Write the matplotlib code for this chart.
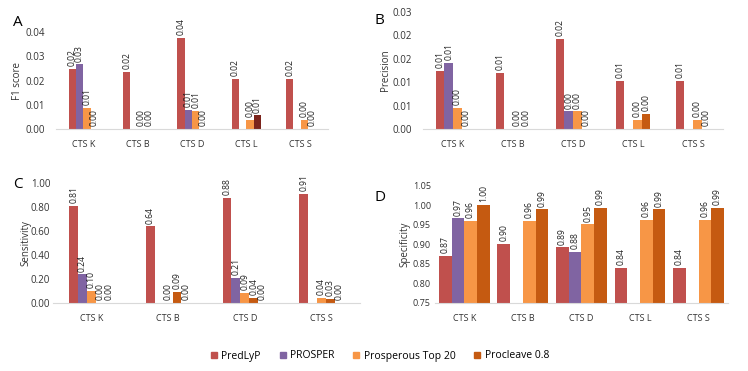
import numpy as np
from matplotlib import pyplot as plt

nan = np.nan

series = ["PredLyP", "PROSPER", "Prosperous Top 20", "Procleave 0.8"]
colors = ["#C0504D", "#8064A2", "#F79646", "#C55A11"]

cats5 = ["CTS K", "CTS B", "CTS D", "CTS L", "CTS S"]
cats4 = ["CTS K", "CTS B", "CTS D", "CTS S"]

# F1 score (A)
f1_predlyp = [0.0247, 0.0236, 0.0375, 0.0206, 0.0206]
f1_prosper = [0.0266, nan, 0.0079, nan, nan]
f1_prosperous = [0.0086, 0.0, 0.0076, 0.0038, 0.0038]
f1_procleave = [0.0, 0.0, 0.0, 0.0056, 0.0]

# Precision (B)
prec_predlyp = [0.0124, 0.0120, 0.0192, 0.0103, 0.0103]
prec_prosper = [0.0141, nan, 0.0038, nan, nan]
prec_prosperous = [0.0045, 0.0, 0.0038, 0.0019, 0.0019]
prec_procleave = [0.0, 0.0, 0.0, 0.0032, 0.0]

# Sensitivity (C) - has a fifth, all-zero series without legend entry
sens_predlyp = [0.81, 0.64, 0.875, 0.91]
sens_prosper = [0.238, nan, 0.21, nan]
sens_prosperous = [0.10, 0.0, 0.085, 0.04]
sens_procleave = [0.0, 0.09, 0.04, 0.03]
sens_extra = [0.0, 0.0, 0.0, 0.0]

# Specificity (D)
spec_predlyp = [0.87, 0.90, 0.892, 0.84, 0.84]
spec_prosper = [0.966, nan, 0.88, nan, nan]
spec_prosperous = [0.959, 0.96, 0.951, 0.962, 0.962]
spec_procleave = [1.0, 0.989, 0.993, 0.989, 0.993]

prec_ticks = [0.0, 0.005, 0.01, 0.015, 0.02, 0.025]
prec_ticklabels = ["0.00", "0.01", "0.01", "0.02", "0.02", "0.03"]

plt.rcParams["font.family"] = ["Open Sans", "DejaVu Sans"]
fig = plt.figure(figsize=(7.48, 3.71), dpi=100)


def panel(rect, cats, data, cols, width, ylim, ylabel, yfmt, bottom=0.0, ticks=None,
          ticklabels=None, bar_colors=None, ypad=8, yfs=7):
    ax = fig.add_axes(rect)
    n = len(data)
    x = np.arange(len(cats))
    for i, vals in enumerate(data):
        pos = x + (i - (n - 1) / 2) * width
        vals = np.array(vals, dtype=float)
        c = [cols[i]] * len(cats)
        if bar_colors and i in bar_colors:
            for j, cc in bar_colors[i].items():
                c[j] = cc
        hv = np.where(np.isnan(vals), 0, vals - bottom)
        ax.bar(pos, hv, width, bottom=bottom, color=c, zorder=2)
        for p, v in zip(pos, vals):
            if np.isnan(v):
                continue
            ax.annotate("%.2f" % v, (p, max(v, bottom)), xytext=(0, 2), textcoords="offset points",
                        rotation=90, ha="center", va="bottom", fontsize=6.2, color="#222222",
                        annotation_clip=False)
    ax.set_xlim(-0.5, len(cats) - 0.5)
    ax.set_ylim(*ylim)
    ax.set_xticks(x)
    ax.set_xticklabels(cats, fontsize=6.5, color="#333333")
    if ticks is not None:
        ax.set_yticks(ticks)
        ax.set_yticklabels(ticklabels)
    else:
        ax.yaxis.set_major_formatter(plt.FormatStrFormatter(yfmt))
    ax.tick_params(axis="y", labelsize=yfs, length=0, colors="#333333", pad=ypad)
    ax.tick_params(axis="x", length=0, pad=8)
    for s in ["top", "right", "left"]:
        ax.spines[s].set_visible(False)
    ax.spines["bottom"].set_color("#d9d9d9")
    ax.set_ylabel(ylabel, fontsize=7, color="#333333")
    return ax


axA = panel([0.075, 0.652, 0.3635, 0.262], cats5,
            [f1_predlyp, f1_prosper, f1_prosperous, f1_procleave], colors,
            0.135, (0, 0.04), "F1 score", "%.2f",
            bar_colors={3: {3: "#7B241C"}})
axA.set_yticks([0, 0.01, 0.02, 0.03, 0.04])
axA.yaxis.set_label_coords(-0.12, 0.5)

axB = panel([0.5655, 0.652, 0.401, 0.316], cats5,
            [prec_predlyp, prec_prosper, prec_prosperous, prec_procleave], colors,
            0.143, (0, 0.025), "Precision", "%.2f",
            ticks=prec_ticks, ticklabels=prec_ticklabels)
axB.yaxis.set_label_coords(-0.105, 0.5)

axC = panel([0.071, 0.184, 0.41, 0.322], cats4,
            [sens_predlyp, sens_prosper, sens_prosperous, sens_procleave, sens_extra],
            colors + ["#4BACC6"], 0.116, (0, 1.0), "Sensitivity", "%.2f", ypad=2)
axC.set_yticks([0, 0.2, 0.4, 0.6, 0.8, 1.0])
axC.yaxis.set_label_coords(-0.07, 0.5)

axD = panel([0.5815, 0.184, 0.3915, 0.3155], cats5,
            [spec_predlyp, spec_prosper, spec_prosperous, spec_procleave], colors,
            0.217, (0.75, 1.05), "Specificity", "%.2f", bottom=0.75, ypad=3, yfs=6.5)
axD.set_yticks(np.arange(0.75, 1.051, 0.05))
axD.yaxis.set_label_coords(-0.085, 0.5)

for lbl, xx, yy in [("A", 13, 22), ("B", 375, 20), ("C", 13, 185), ("D", 375, 197)]:
    fig.text(xx / 748, 1 - yy / 371, lbl, fontsize=11, ha="left", va="center")

handles = [plt.Rectangle((0, 0), 1, 1, color=c) for c in colors]
fig.legend(handles, series, loc="center", bbox_to_anchor=(0.508, 1 - 356 / 371), ncol=4,
           frameon=False, fontsize=7.5, handlelength=0.6, handleheight=0.6,
           columnspacing=1.8, handletextpad=0.4)

fig.savefig("out.png", dpi=100)
